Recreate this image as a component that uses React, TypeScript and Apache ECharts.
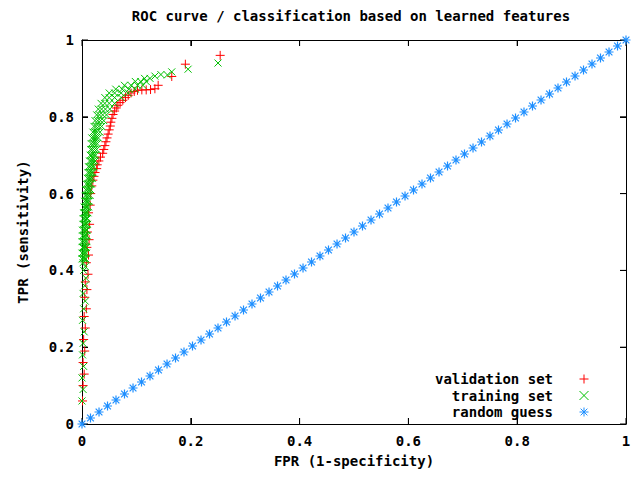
import React, { useEffect, useRef } from "react";
import * as echarts from "echarts";

const TITLE = "ROC curve / classification based on learned features";
const X_NAME = "FPR (1-specificity)";
const Y_NAME = "TPR (sensitivity)";
const SERIES_NAMES = ["validation set", "training set", "random guess"];
const TICK_VALUES = [0, 0.2, 0.4, 0.6, 0.8, 1];

// validation set: [FPR, TPR]
const validationSet: number[][] = [
  [0.001, 0.06], [0.002, 0.1], [0.004, 0.13], [0.002, 0.16], [0.005, 0.19], [0.003, 0.22],
  [0.006, 0.25], [0.004, 0.28], [0.008, 0.3], [0.005, 0.33], [0.009, 0.35], [0.006, 0.37],
  [0.011, 0.39], [0.008, 0.42], [0.012, 0.44], [0.009, 0.46], [0.013, 0.48], [0.01, 0.5],
  [0.014, 0.52], [0.012, 0.55], [0.015, 0.57], [0.016, 0.6], [0.018, 0.62], [0.02, 0.635],
  [0.022, 0.645], [0.024, 0.655], [0.027, 0.665], [0.028, 0.675], [0.031, 0.685], [0.034, 0.695],
  [0.038, 0.705], [0.04, 0.715], [0.042, 0.725], [0.044, 0.735], [0.046, 0.745], [0.048, 0.755],
  [0.05, 0.766], [0.052, 0.776], [0.053, 0.786], [0.055, 0.796], [0.057, 0.806], [0.06, 0.815],
  [0.063, 0.823], [0.066, 0.83], [0.07, 0.837], [0.075, 0.843], [0.08, 0.85], [0.085, 0.856],
  [0.09, 0.862], [0.096, 0.866], [0.102, 0.869], [0.11, 0.87], [0.118, 0.87], [0.126, 0.871],
  [0.134, 0.873], [0.14, 0.882], [0.165, 0.905], [0.19, 0.937], [0.254, 0.96],
];

// training set: [FPR, TPR]
const trainingSet: number[][] = [
  [0, 0.06], [0.002, 0.09], [0, 0.12], [0.003, 0.15], [0.001, 0.18], [0.002, 0.21],
  [0.004, 0.24], [0.001, 0.27], [0.003, 0.3], [0.006, 0.32], [0.002, 0.34], [0.005, 0.36],
  [0.007, 0.38], [0.003, 0.4], [0.006, 0.41], [0.002, 0.42],
  [0.0, 0.43], [0.003, 0.43], [0.005, 0.43], [0.007, 0.43],
  [0.0, 0.445], [0.003, 0.445], [0.005, 0.445], [0.008, 0.445],
  [0.001, 0.46], [0.003, 0.46], [0.006, 0.46], [0.008, 0.46],
  [0.0, 0.475], [0.003, 0.475], [0.006, 0.475], [0.009, 0.475],
  [0.001, 0.49], [0.004, 0.49], [0.006, 0.49], [0.009, 0.49],
  [0.001, 0.505], [0.004, 0.505], [0.007, 0.505], [0.009, 0.505],
  [0.002, 0.52], [0.005, 0.52], [0.007, 0.52], [0.01, 0.52],
  [0.002, 0.535], [0.005, 0.535], [0.008, 0.535], [0.01, 0.535],
  [0.003, 0.55], [0.006, 0.55], [0.008, 0.55], [0.011, 0.55],
  [0.004, 0.565], [0.007, 0.565], [0.009, 0.565], [0.012, 0.565],
  [0.005, 0.58], [0.008, 0.58], [0.01, 0.58], [0.013, 0.58],
  [0.006, 0.595], [0.009, 0.595], [0.012, 0.595], [0.015, 0.595],
  [0.007, 0.61], [0.01, 0.61], [0.013, 0.61], [0.016, 0.61],
  [0.008, 0.625], [0.011, 0.625], [0.014, 0.625], [0.017, 0.625],
  [0.01, 0.64], [0.013, 0.64], [0.016, 0.64], [0.019, 0.64],
  [0.011, 0.655], [0.014, 0.655], [0.017, 0.655], [0.02, 0.655],
  [0.012, 0.67], [0.015, 0.67], [0.019, 0.67], [0.022, 0.67],
  [0.014, 0.685], [0.017, 0.685], [0.02, 0.685], [0.024, 0.685],
  [0.015, 0.7], [0.018, 0.7], [0.022, 0.7], [0.025, 0.7],
  [0.016, 0.715], [0.019, 0.715], [0.023, 0.715], [0.027, 0.715],
  [0.017, 0.73], [0.021, 0.73], [0.024, 0.73], [0.028, 0.73],
  [0.018, 0.745], [0.022, 0.745], [0.026, 0.745], [0.03, 0.745],
  [0.02, 0.76], [0.024, 0.76], [0.028, 0.76], [0.033, 0.76],
  [0.022, 0.775], [0.026, 0.775], [0.031, 0.775], [0.036, 0.775],
  [0.024, 0.79], [0.029, 0.79], [0.034, 0.79], [0.04, 0.79],
  [0.027, 0.805], [0.032, 0.805], [0.038, 0.805], [0.045, 0.805],
  [0.03, 0.82], [0.036, 0.82], [0.043, 0.82], [0.051, 0.82],
  [0.035, 0.835], [0.042, 0.835], [0.05, 0.835], [0.06, 0.835],
  [0.042, 0.85], [0.05, 0.85], [0.06, 0.85], [0.072, 0.85],
  [0.05, 0.862], [0.06, 0.862], [0.072, 0.862], [0.085, 0.862],
  [0.062, 0.872], [0.074, 0.872], [0.086, 0.872], [0.098, 0.872],
  [0.078, 0.882], [0.09, 0.882], [0.102, 0.882], [0.112, 0.882],
  [0.098, 0.892], [0.108, 0.892], [0.118, 0.892],
  [0.115, 0.9], [0.125, 0.9],
  [0.134, 0.906], [0.145, 0.91], [0.157, 0.909], [0.165, 0.917], [0.195, 0.924], [0.25, 0.94],
];

// random guess diagonal
const randomGuess: number[] = [
  0, 0.0156, 0.0313, 0.0469, 0.0625, 0.0781, 0.0938, 0.1094, 0.125, 0.1406, 0.1563, 0.1719,
  0.1875, 0.2031, 0.2188, 0.2344, 0.25, 0.2656, 0.2813, 0.2969, 0.3125, 0.3281, 0.3438, 0.3594,
  0.375, 0.3906, 0.4063, 0.4219, 0.4375, 0.4531, 0.4688, 0.4844, 0.5, 0.5156, 0.5313, 0.5469,
  0.5625, 0.5781, 0.5938, 0.6094, 0.625, 0.6406, 0.6563, 0.6719, 0.6875, 0.7031, 0.7188, 0.7344,
  0.75, 0.7656, 0.7813, 0.7969, 0.8125, 0.8281, 0.8438, 0.8594, 0.875, 0.8906, 0.9063, 0.9219,
  0.9375, 0.9531, 0.9688, 0.9844, 1,
];

const FONT = "'DejaVu Sans Mono', 'Liberation Mono', monospace";
const PLUS = "path://M4 0L4 8M0 4L8 4";
const CROSS = "path://M0 0L8 8M8 0L0 8";
const STAR = "path://M4 0L4 8M0 4L8 4M1 1L7 7M7 1L1 7";
const TICK_LEN = 6;

function makeAxis(extra: any) {
  return {
    type: "value",
    min: 0,
    max: 1,
    interval: 0.2,
    splitLine: { show: false },
    axisLine: { show: true, onZero: false, lineStyle: { color: "#000", width: 1 } },
    axisTick: { show: true, inside: true, length: TICK_LEN, lineStyle: { color: "#000", width: 1 } },
    ...extra,
  };
}

export default function App() {
  const ref = useRef<HTMLDivElement>(null);
  useEffect(() => {
    if (!ref.current) return;
    const chart = echarts.init(ref.current, undefined, { renderer: "svg" });
    const ts = () => ({ fontFamily: FONT, fontWeight: "bold" as const, fontSize: 14, color: "#000" });
    const tickLine = (x1: number, y1: number, x2: number, y2: number) => ({
      type: "line",
      shape: { x1, y1, x2, y2 },
      style: { stroke: "#000", lineWidth: 1 },
    });
    chart.setOption({
      animation: false,
      backgroundColor: "#fff",
      graphic: [
        {
          type: "text",
          x: 351,
          y: 16,
          style: { text: TITLE, textAlign: "center", textVerticalAlign: "middle", font: `bold 14px ${FONT}`, fill: "#000" },
        },
      ],
      grid: { left: 82, right: 14, top: 40, bottom: 53 },
      legend: {
        orient: "vertical",
        align: "right",
        right: 46,
        bottom: 53,
        itemWidth: 52,
        itemHeight: 9,
        itemGap: 2.5,
        textStyle: ts(),
        itemStyle: { borderWidth: 1 },
        data: SERIES_NAMES,
      },
      xAxis: [
        makeAxis({
          position: "bottom",
          name: X_NAME,
          nameLocation: "middle",
          nameGap: 30,
          nameTextStyle: ts(),
          axisLabel: { ...ts(), margin: 10 },
        }),
        makeAxis({ position: "top", axisLabel: { show: false } }),
      ],
      yAxis: [
        makeAxis({
          position: "left",
          name: Y_NAME,
          nameLocation: "middle",
          nameGap: 52,
          nameTextStyle: ts(),
          axisLabel: { ...ts(), margin: 8 },
        }),
        makeAxis({ position: "right", axisLabel: { show: false } }),
      ],
      series: [
        {
          name: "ticks",
          type: "custom",
          silent: true,
          clip: false,
          data: TICK_VALUES.map((v) => [v, v]),
          renderItem: (params: any, api: any) => {
            const v = api.value(0);
            const b = api.coord([v, 0]);
            const t = api.coord([v, 1]);
            const l = api.coord([0, v]);
            const r = api.coord([1, v]);
            return {
              type: "group",
              children: [
                tickLine(b[0], b[1], b[0], b[1] - TICK_LEN),
                tickLine(t[0], t[1], t[0], t[1] + TICK_LEN),
                tickLine(l[0], l[1], l[0] + TICK_LEN, l[1]),
                tickLine(r[0], r[1], r[0] - TICK_LEN, r[1]),
              ],
            };
          },
        },
        {
          name: SERIES_NAMES[0],
          type: "scatter",
          symbol: PLUS,
          symbolSize: 9,
          symbolKeepAspect: true,
          itemStyle: { color: "rgba(0,0,0,0)", borderColor: "#ff0000", borderWidth: 1, opacity: 1 },
          data: validationSet,
        },
        {
          name: SERIES_NAMES[1],
          type: "scatter",
          symbol: CROSS,
          symbolSize: 7,
          symbolKeepAspect: true,
          itemStyle: { color: "rgba(0,0,0,0)", borderColor: "#00c000", borderWidth: 1, opacity: 1 },
          data: trainingSet,
        },
        {
          name: SERIES_NAMES[2],
          type: "scatter",
          symbol: STAR,
          symbolSize: 9,
          symbolKeepAspect: true,
          itemStyle: { color: "rgba(0,0,0,0)", borderColor: "#1e8fff", borderWidth: 1.2, opacity: 1 },
          data: randomGuess.map((v) => [v, v]),
        },
      ],
    });
    return () => chart.dispose();
  }, []);
  return <div ref={ref} style={{ width: 640, height: 477, margin: -8 }} />;
}
